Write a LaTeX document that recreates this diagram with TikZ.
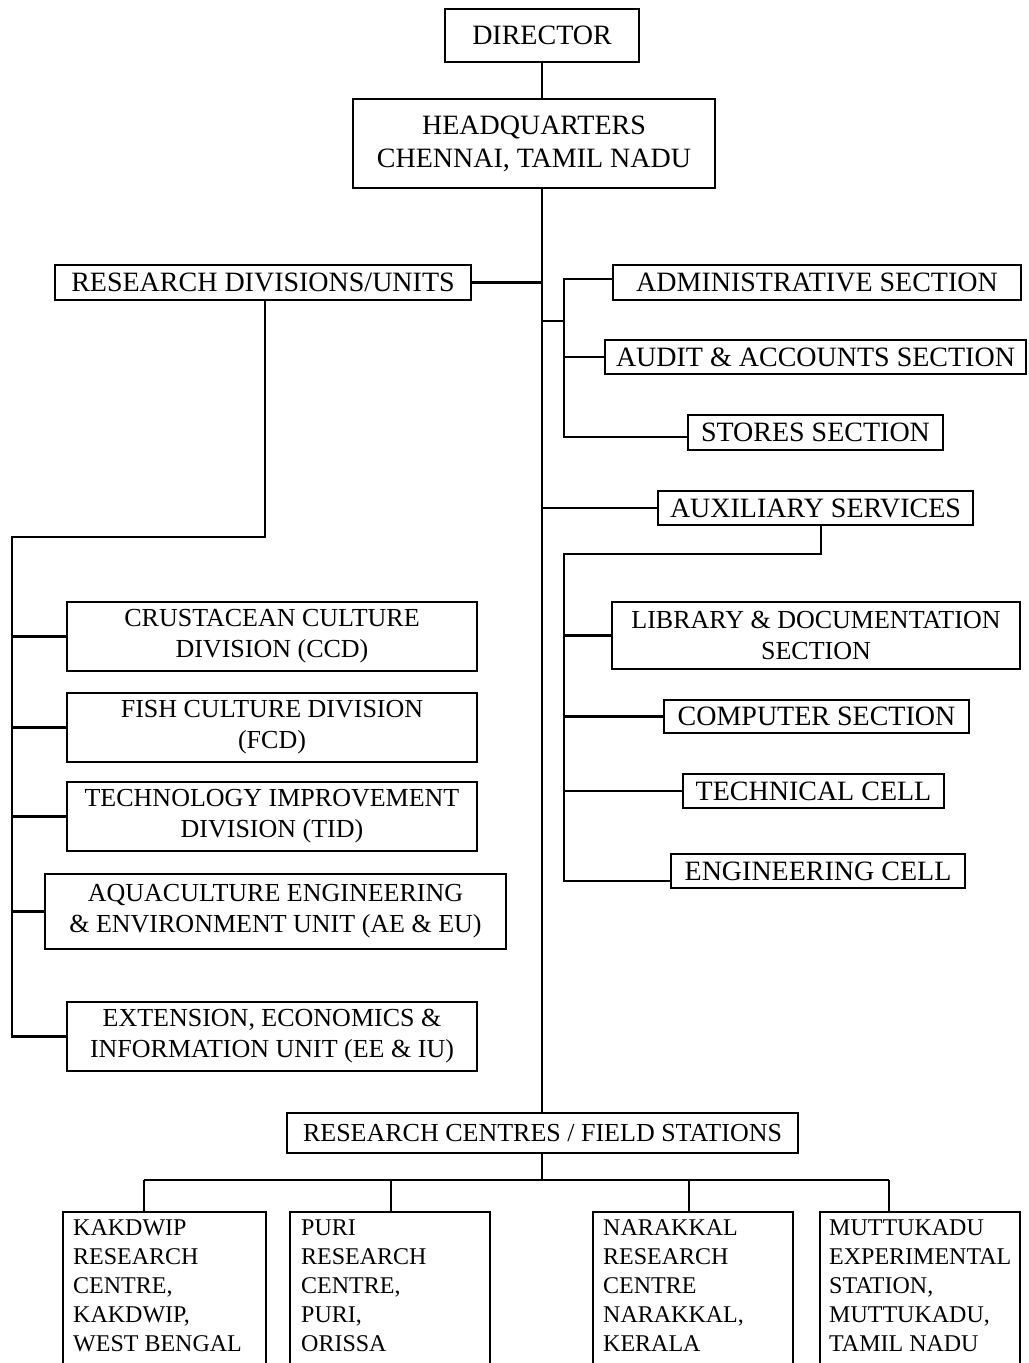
\documentclass[tikz,border=0pt]{standalone}
\usepackage{fontspec}
\setmainfont{Liberation Serif}
\begin{document}
\begin{tikzpicture}[x=0.5pt,y=-0.5pt,
  box/.style={draw, line width=1.2pt, inner sep=0pt, align=center, font=\fontsize{14}{16}\selectfont},
  boxb/.style={box, font=\fontsize{13}{15.5}\selectfont},
  boxc/.style={draw, line width=1.2pt, inner sep=0pt},
  ctext/.style={anchor=north west, inner sep=0pt, align=left, font=\fontsize{12}{14.5}\selectfont},
  ln/.style={line width=1.1pt}]
\useasboundingbox (0,0) rectangle (1028,1363);
\clip (0,0) rectangle (1028,1363);

% boxes
\node[box, minimum width={194*0.5pt}, minimum height={53*0.5pt}] (dir) at (542,35.5) {DIRECTOR};
\node[box, font=\fontsize{14}{16.5}\selectfont, minimum width={362*0.5pt}, minimum height={89*0.5pt}] (hq) at (534,143.5) {HEADQUARTERS\\CHENNAI, TAMIL NADU};
\node[box, minimum width={416*0.5pt}, minimum height={35*0.5pt}] (rdu) at (263,282.5) {RESEARCH DIVISIONS/UNITS};
\node[box, minimum width={408*0.5pt}, minimum height={35*0.5pt}] (adm) at (817,282.5) {ADMINISTRATIVE SECTION};
\node[box, minimum width={421*0.5pt}, minimum height={34*0.5pt}] (aud) at (815.5,357) {AUDIT \& ACCOUNTS SECTION};
\node[box, minimum width={255*0.5pt}, minimum height={35*0.5pt}] (sto) at (815.5,432.5) {STORES SECTION};
\node[box, minimum width={315*0.5pt}, minimum height={34*0.5pt}] (aux) at (815.5,508) {AUXILIARY SERVICES};

\node[boxb, minimum width={410*0.5pt}, minimum height={69*0.5pt}] (ccd) at (272,636.5) {CRUSTACEAN CULTURE\\DIVISION (CCD)};
\node[boxb, minimum width={410*0.5pt}, minimum height={69*0.5pt}] (fcd) at (272,727.5) {FISH CULTURE DIVISION\\(FCD)};
\node[boxb, minimum width={410*0.5pt}, minimum height={69*0.5pt}] (tid) at (272,816.5) {TECHNOLOGY IMPROVEMENT\\DIVISION (TID)};
\node[boxb, minimum width={461*0.5pt}, minimum height={75*0.5pt}] (ae) at (275.5,911.5) {AQUACULTURE ENGINEERING\\\& ENVIRONMENT UNIT (AE \& EU)};
\node[boxb, minimum width={410*0.5pt}, minimum height={69*0.5pt}] (ee) at (272,1036.5) {EXTENSION, ECONOMICS \&\\INFORMATION UNIT (EE \& IU)};

\node[boxb, minimum width={408*0.5pt}, minimum height={67*0.5pt}] (lib) at (816,635.5) {LIBRARY \& DOCUMENTATION\\SECTION};
\node[box, minimum width={305*0.5pt}, minimum height={33*0.5pt}] (com) at (816.5,716.5) {COMPUTER SECTION};
\node[box, minimum width={261*0.5pt}, minimum height={34*0.5pt}] (tec) at (813.5,791) {TECHNICAL CELL};
\node[box, minimum width={294*0.5pt}, minimum height={34*0.5pt}] (eng) at (818,871) {ENGINEERING CELL};

\node[boxb, minimum width={511*0.5pt}, minimum height={40*0.5pt}] (rc) at (542.5,1133) {RESEARCH CENTRES / FIELD STATIONS};

\node[boxc, minimum width={203*0.5pt}, minimum height={163*0.5pt}] (kak) at (164.5,1293.5) {};
\node[boxc, minimum width={200*0.5pt}, minimum height={163*0.5pt}] (pur) at (390,1293.5) {};
\node[boxc, minimum width={200*0.5pt}, minimum height={163*0.5pt}] (nar) at (693,1293.5) {};
\node[boxc, minimum width={200*0.5pt}, minimum height={163*0.5pt}] (mut) at (920,1293.5) {};
\node[ctext] (kakt) at ([xshift=5.5pt,yshift=-4.25pt]kak.north west) {KAKDWIP\\RESEARCH\\CENTRE,\\KAKDWIP,\\WEST BENGAL};
\node[ctext] (purt) at ([xshift=6pt,yshift=-4.25pt]pur.north west) {PURI\\RESEARCH\\CENTRE,\\PURI,\\ORISSA};
\node[ctext] (nart) at ([xshift=5.5pt,yshift=-4.25pt]nar.north west) {NARAKKAL\\RESEARCH\\CENTRE\\NARAKKAL,\\KERALA};
\node[ctext] (mutt) at ([xshift=5pt,yshift=-4.25pt]mut.north west) {MUTTUKADU\\EXPERIMENTAL\\STATION,\\MUTTUKADU,\\TAMIL NADU};

% coordinates
\coordinate (lk) at (265,537);
\coordinate (lx) at (12,537);
\coordinate (aj) at (564,321);
\coordinate (rbt) at (564,279);
\coordinate (rbb) at (564,437);
\coordinate (ak) at (821,554);
\coordinate (ab) at (564,554);
\coordinate (abb) at (564,881);
\coordinate (rj) at (542,1180);
\coordinate (d1) at (144,1180);
\coordinate (d2) at (391,1180);
\coordinate (d3) at (689,1180);
\coordinate (d4) at (889,1180);

% connectors
\draw[ln] (dir.south) -- (dir.south |- hq.north);
\draw[ln] (hq.south -| dir.south) -- (rc.north -| dir.south);
\draw[ln] (rdu.east) -- (rdu.east -| dir.south);
\draw[ln] (rdu.south -| lk) -- (lk) -- (lx) -- (lx |- ee.west) -- (ee.west);
\draw[ln] (lx |- ccd.west) -- (ccd.west);
\draw[ln] (lx |- fcd.west) -- (fcd.west);
\draw[ln] (lx |- tid.west) -- (tid.west);
\draw[ln] (lx |- ae.west) -- (ae.west);

\draw[ln] (aj -| dir.south) -- (aj);
\draw[ln] ([yshift=1.75pt]adm.west) -- (rbt) -- (rbb) -- ([yshift=-2.25pt]sto.west);
\draw[ln] (aud.west) -- (aud.west -| rbb);
\draw[ln] (aux.west -| dir.south) -- (aux.west);
\draw[ln] (aux.south -| ak) -- (ak) -- (ab) -- (abb) -- ([yshift=-5pt]eng.west);
\draw[ln] (lib.west -| ab) -- (lib.west);
\draw[ln] (com.west -| ab) -- (com.west);
\draw[ln] (tec.west -| ab) -- (tec.west);

\draw[ln] (rc.south -| rj) -- (rj);
\draw[ln] (d1) -- (d4);
\draw[ln] (d1) -- (d1 |- kak.north);
\draw[ln] (d2) -- (d2 |- pur.north);
\draw[ln] (d3) -- (d3 |- nar.north);
\draw[ln] (d4) -- (d4 |- mut.north);
\end{tikzpicture}
\end{document}
